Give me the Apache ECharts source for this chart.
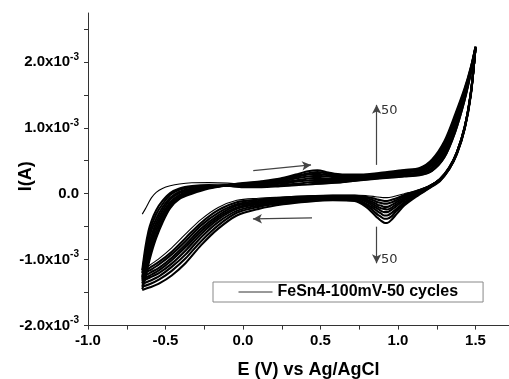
<!DOCTYPE html>
<html><head><meta charset="utf-8">
<script src="https://cdn.jsdelivr.net/npm/echarts@6/dist/echarts.min.js"></script>
<style>html,body{margin:0;padding:0;background:#fff}#chart{width:509px;height:379px}</style>
</head><body><div id="chart"></div>
<script>
// Potential grids (V vs Ag/AgCl) for anodic (forward) and cathodic (reverse) sweeps
const potentialForward = [-0.65, -0.63, -0.61, -0.59, -0.56, -0.52, -0.47, -0.41, -0.33, -0.22, -0.10, 0.00, 0.12, 0.24, 0.34, 0.42, 0.48, 0.55, 0.64, 0.76, 0.90, 1.04, 1.14, 1.22, 1.30, 1.37, 1.43, 1.47, 1.50];
const potentialReverse = [1.50, 1.47, 1.43, 1.38, 1.33, 1.27, 1.20, 1.12, 1.04, 0.99, 0.96, 0.93, 0.91, 0.89, 0.87, 0.84, 0.80, 0.72, 0.58, 0.42, 0.26, 0.10, -0.04, -0.16, -0.27, -0.37, -0.46, -0.54, -0.60, -0.65];

// Representative cycles; currents in units of 1e-3 A
const cycleNumbers = [1, 2, 3, 5, 8, 13, 21, 34, 50];

const forwardCycle1  = [-0.31, -0.23, -0.14, -0.06, 0.02, 0.08, 0.12, 0.148, 0.165, 0.168, 0.16, 0.14, 0.125, 0.12, 0.13, 0.14, 0.145, 0.155, 0.17, 0.20, 0.235, 0.26, 0.28, 0.34, 0.54, 0.92, 1.40, 1.82, 2.20];
const forwardCycle2  = [-1.16, -0.82, -0.57, -0.41, -0.25, -0.11, 0.01, 0.08, 0.115, 0.13, 0.12, 0.10, 0.10, 0.115, 0.13, 0.14, 0.15, 0.16, 0.175, 0.205, 0.235, 0.26, 0.28, 0.35, 0.56, 0.95, 1.42, 1.83, 2.20];
const forwardCycle3  = [-1.20, -0.89, -0.65, -0.48, -0.31, -0.16, -0.02, 0.06, 0.10, 0.12, 0.12, 0.11, 0.11, 0.13, 0.15, 0.17, 0.18, 0.18, 0.19, 0.22, 0.25, 0.27, 0.30, 0.38, 0.60, 0.99, 1.45, 1.84, 2.20];
const forwardCycle5  = [-1.26, -0.96, -0.72, -0.55, -0.38, -0.21, -0.06, 0.03, 0.08, 0.11, 0.12, 0.12, 0.13, 0.15, 0.18, 0.20, 0.21, 0.21, 0.21, 0.23, 0.26, 0.29, 0.31, 0.40, 0.63, 1.03, 1.47, 1.86, 2.21];
const forwardCycle8  = [-1.29, -1.03, -0.80, -0.63, -0.44, -0.26, -0.09, 0.01, 0.06, 0.11, 0.12, 0.13, 0.14, 0.17, 0.20, 0.23, 0.24, 0.23, 0.23, 0.24, 0.27, 0.30, 0.33, 0.43, 0.67, 1.07, 1.50, 1.87, 2.21];
const forwardCycle13 = [-1.32, -1.10, -0.87, -0.70, -0.50, -0.31, -0.13, -0.02, 0.05, 0.10, 0.13, 0.14, 0.15, 0.18, 0.23, 0.26, 0.27, 0.26, 0.24, 0.26, 0.29, 0.32, 0.35, 0.45, 0.70, 1.11, 1.53, 1.88, 2.22];
const forwardCycle21 = [-1.36, -1.16, -0.94, -0.76, -0.56, -0.35, -0.16, -0.04, 0.03, 0.09, 0.13, 0.14, 0.17, 0.20, 0.25, 0.29, 0.30, 0.28, 0.26, 0.27, 0.30, 0.33, 0.36, 0.47, 0.74, 1.14, 1.55, 1.90, 2.22];
const forwardCycle34 = [-1.41, -1.22, -1.00, -0.83, -0.62, -0.40, -0.19, -0.06, 0.02, 0.09, 0.13, 0.15, 0.18, 0.22, 0.27, 0.31, 0.33, 0.30, 0.28, 0.28, 0.31, 0.35, 0.38, 0.50, 0.77, 1.18, 1.58, 1.91, 2.23];
const forwardCycle50 = [-1.45, -1.28, -1.07, -0.89, -0.67, -0.44, -0.22, -0.08, 0.00, 0.08, 0.13, 0.16, 0.19, 0.23, 0.29, 0.34, 0.355, 0.32, 0.29, 0.29, 0.32, 0.36, 0.39, 0.52, 0.80, 1.21, 1.60, 1.92, 2.23];

const reverseCycle1  = [2.20, 1.55, 1.02, 0.64, 0.40, 0.23, 0.12, 0.05, 0.00, -0.03, -0.05, -0.06, -0.06, -0.055, -0.05, -0.04, -0.03, -0.02, -0.02, -0.03, -0.05, -0.07, -0.10, -0.21, -0.39, -0.61, -0.82, -0.98, -1.08, -1.16];
const reverseCycle2  = [2.20, 1.54, 1.01, 0.63, 0.40, 0.22, 0.11, 0.04, -0.02, -0.07, -0.09, -0.11, -0.11, -0.10, -0.09, -0.07, -0.05, -0.03, -0.03, -0.04, -0.06, -0.09, -0.13, -0.25, -0.44, -0.67, -0.88, -1.03, -1.12, -1.20];
const reverseCycle3  = [2.21, 1.54, 1.01, 0.63, 0.39, 0.22, 0.11, 0.03, -0.04, -0.10, -0.13, -0.15, -0.15, -0.14, -0.13, -0.10, -0.07, -0.04, -0.04, -0.05, -0.08, -0.11, -0.16, -0.29, -0.48, -0.72, -0.92, -1.07, -1.16, -1.23];
const reverseCycle5  = [2.21, 1.53, 1.01, 0.63, 0.39, 0.22, 0.11, 0.02, -0.06, -0.13, -0.17, -0.20, -0.20, -0.18, -0.17, -0.13, -0.09, -0.05, -0.05, -0.06, -0.09, -0.13, -0.18, -0.33, -0.53, -0.77, -0.97, -1.12, -1.20, -1.27];
const reverseCycle8  = [2.21, 1.53, 1.00, 0.62, 0.39, 0.21, 0.10, 0.01, -0.08, -0.16, -0.21, -0.24, -0.23, -0.22, -0.20, -0.16, -0.11, -0.06, -0.06, -0.07, -0.10, -0.14, -0.21, -0.36, -0.57, -0.81, -1.01, -1.16, -1.24, -1.30];
const reverseCycle13 = [2.22, 1.52, 1.00, 0.62, 0.38, 0.21, 0.10, 0.00, -0.10, -0.19, -0.24, -0.28, -0.28, -0.26, -0.23, -0.19, -0.13, -0.07, -0.07, -0.08, -0.11, -0.16, -0.23, -0.39, -0.61, -0.86, -1.06, -1.20, -1.27, -1.33];
const reverseCycle21 = [2.22, 1.52, 0.99, 0.61, 0.38, 0.20, 0.09, -0.01, -0.13, -0.23, -0.29, -0.33, -0.33, -0.30, -0.27, -0.22, -0.16, -0.08, -0.08, -0.09, -0.13, -0.18, -0.26, -0.43, -0.66, -0.92, -1.11, -1.25, -1.32, -1.37];
const reverseCycle34 = [2.22, 1.51, 0.99, 0.61, 0.37, 0.20, 0.09, -0.03, -0.15, -0.26, -0.34, -0.38, -0.38, -0.35, -0.32, -0.26, -0.18, -0.10, -0.09, -0.11, -0.14, -0.20, -0.29, -0.48, -0.72, -0.98, -1.17, -1.30, -1.37, -1.41];
const reverseCycle50 = [2.23, 1.50, 0.98, 0.60, 0.37, 0.19, 0.08, -0.04, -0.18, -0.31, -0.39, -0.445, -0.44, -0.41, -0.37, -0.30, -0.21, -0.11, -0.10, -0.12, -0.16, -0.23, -0.33, -0.53, -0.78, -1.05, -1.24, -1.36, -1.42, -1.46];

// Axis ticks and labels
const xTickValues = [-1, -0.75, -0.5, -0.25, 0, 0.25, 0.5, 0.75, 1, 1.25, 1.5];
const xLabelValues = [-1, -0.5, 0, 0.5, 1, 1.5];
const xLabelTexts = ['-1.0', '-0.5', '0.0', '0.5', '1.0', '1.5'];
const yTickValues = [-2, -1.5, -1, -0.5, 0, 0.5, 1, 1.5, 2, 2.5];
const yLabelValues = [-2, -1, 0, 1, 2];
const yLabelMantissas = ['-2.0', '-1.0', '0.0', '1.0', '2.0'];
const yLabelExponent = '-3';

const legendName = 'FeSn4-100mV-50 cycles';
const xTitle = 'E (V) vs Ag/AgCl';
const yTitle = 'I(A)';

// Annotations: [start, end] in data coordinates
const sweepArrows = [
  [[0.066, 0.35], [0.439, 0.437]],
  [[0.445, -0.367], [0.064, -0.382]],
  [[0.862, 0.437], [0.862, 1.347]],
  [[0.862, -0.50], [0.862, -1.055]]
];
const cycleLabels = [
  {text: '50', at: [0.89, 1.256]},
  {text: '50', at: [0.89, -0.997]}
];

const forwardCurrents = [forwardCycle1, forwardCycle2, forwardCycle3, forwardCycle5, forwardCycle8, forwardCycle13, forwardCycle21, forwardCycle34, forwardCycle50];
const reverseCurrents = [reverseCycle1, reverseCycle2, reverseCycle3, reverseCycle5, reverseCycle8, reverseCycle13, reverseCycle21, reverseCycle34, reverseCycle50];

const FONT = 'Liberation Sans, Arial, sans-serif';
const series = [];
cycleNumbers.forEach((n, i) => {
  const style = {
    type: 'line', name: legendName, symbol: 'none', smooth: 0.3, silent: true, animation: false,
    lineStyle: {color: '#000', width: n === 1 ? 1.1 : 2.1}, itemStyle: {color: '#000'}
  };
  series.push(Object.assign({}, style, {data: potentialForward.map((e, j) => [e, forwardCurrents[i][j]])}));
  series.push(Object.assign({}, style, {data: potentialReverse.map((e, j) => [e, reverseCurrents[i][j]])}));
});
series.push({
  type: 'line', name: 'annotations', data: [], silent: true, animation: false,
  markLine: {
    silent: true, symbol: ['none', 'arrow'], symbolSize: [7, 9], animation: false,
    lineStyle: {color: '#444', width: 1.2, type: 'solid'}, label: {show: false},
    emphasis: {disabled: true},
    data: sweepArrows.map(a => [{coord: a[0]}, {coord: a[1]}])
  },
  markPoint: {
    silent: true, animation: false, symbol: 'circle', symbolSize: 0,
    data: cycleLabels.map(c => ({coord: c.at, label: {show: true, position: 'right', distance: 0, formatter: c.text, fontFamily: 'DejaVu Sans', fontSize: 13, color: '#333'}}))
  }
});

const chart = echarts.init(document.getElementById('chart'), null, {renderer: 'canvas'});
chart.setOption({
  animation: false,
  backgroundColor: '#fff',
  grid: {left: 88, right: 0, top: 13, height: 312.6, containLabel: false, outerBoundsMode: 'none'},
  legend: {
    data: [legendName], left: 213, top: 282, padding: [2, 25, 2, 25], itemWidth: 34, itemHeight: 14, itemGap: 0,
    borderColor: '#888', borderWidth: 1, selectedMode: false,
    itemStyle: {opacity: 0}, lineStyle: {width: 1, color: '#333'},
    textStyle: {fontFamily: FONT, fontWeight: 'bold', fontSize: 16, color: '#000'}
  },
  xAxis: {
    type: 'value', min: -1, max: 1.716,
    axisLine: {show: true, onZero: false, lineStyle: {color: '#333', width: 1}},
    axisTick: {show: true, length: 4, customValues: xTickValues, lineStyle: {color: '#333'}},
    axisLabel: {customValues: xLabelValues, margin: 8, fontFamily: FONT, fontWeight: 'bold', fontSize: 15, color: '#000',
      formatter: v => { const k = xLabelValues.findIndex(x => Math.abs(x - v) < 1e-6); return k < 0 ? '' : xLabelTexts[k]; }},
    splitLine: {show: false},
    name: xTitle, nameLocation: 'middle', nameGap: 35, nameMoveOverlap: false,
    nameTextStyle: {fontFamily: FONT, fontWeight: 'bold', fontSize: 18, color: '#000', padding: [0, 0, 0, 20]}
  },
  yAxis: {
    type: 'value', min: -2, max: 2.74,
    axisLine: {show: true, onZero: false, lineStyle: {color: '#333', width: 1}},
    axisTick: {show: true, length: 4, customValues: yTickValues, lineStyle: {color: '#333'}},
    axisLabel: {customValues: yLabelValues, margin: 9,
      formatter: v => {
        const k = yLabelValues.findIndex(y => Math.abs(y - v) < 1e-6);
        if (k < 0) return '';
        if (yLabelValues[k] === 0) return '{m|' + yLabelMantissas[k] + '}';
        return '{m|' + yLabelMantissas[k] + 'x10}{e|' + yLabelExponent + '}';
      },
      rich: {
        m: {fontFamily: FONT, fontWeight: 'bold', fontSize: 15, color: '#000', lineHeight: 20},
        e: {fontFamily: FONT, fontWeight: 'bold', fontSize: 10, color: '#000', lineHeight: 12, verticalAlign: 'top'}
      }
    },
    splitLine: {show: false},
    name: yTitle, nameLocation: 'middle', nameGap: 53, nameMoveOverlap: false,
    nameTextStyle: {fontFamily: FONT, fontWeight: 'bold', fontSize: 18, color: '#000', padding: [0, 14, 0, 0]}
  },
  series: series
});
</script></body></html>
